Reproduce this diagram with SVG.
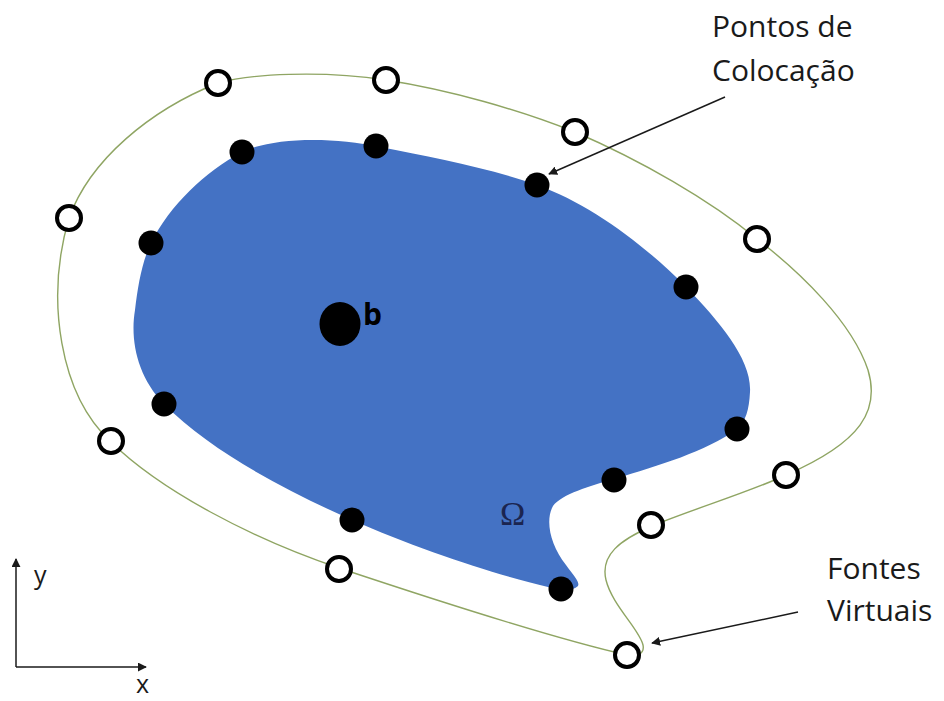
<svg xmlns="http://www.w3.org/2000/svg" width="944" height="701" viewBox="0 0 944 701">
  <defs>
    <style>
      .domain { fill: #4472C4; stroke: none; }
      .virtual-curve { fill: none; stroke: #8FA563; stroke-width: 1.4; }
      .colloc { fill: #000; }
      .source { fill: #fff; stroke: #000; stroke-width: 4; }
      .label { font-family: "Open Sans", "Liberation Sans", sans-serif; font-size: 30px; fill: #1a1a1a; }
      .axis-label { font-family: "Open Sans", "Liberation Sans", sans-serif; font-size: 25px; fill: #1a1a1a; }
      .lead { fill: none; stroke: #1a1a1a; stroke-width: 1.5; marker-end: url(#head); }
      .axis { fill: none; stroke: #1a1a1a; stroke-width: 1.5; marker-end: url(#head); }
    </style>
    <marker id="head" viewBox="0 0 10 10" refX="9" refY="5" markerWidth="9" markerHeight="9" markerUnits="userSpaceOnUse" orient="auto">
      <path d="M0,0 L10,5 L0,10 Z" fill="#1a1a1a"/>
    </marker>
  </defs>

  <!-- virtual boundary carrying the sources -->
  <g id="virtual-boundary">
    <path class="virtual-curve" d="M 218,83 C 250,74 320,70 386,80 C 450,90 520,110 575,132 C 640,160 710,200 757,239 C 800,272 852,322 868,370 C 880,410 862,442 786,475 C 750,492 690,510 652,526 C 620,540 600,555 606,580 C 612,605 640,630 643,645 C 645,655 635,657 627,655 C 560,640 450,605 339,568 C 250,538 160,490 111,442 C 60,395 45,300 69,218 C 90,160 150,110 218,83 Z"/>
  </g>

  <!-- problem domain Omega -->
  <g id="domain">
    <path class="domain" d="M 242,152 C 270,138 330,136 380,147 C 430,157 490,168 537,185 C 590,204 645,245 686,287 C 720,322 752,360 750,392 C 749,410 746,421 737,429 C 705,452 660,465 614,479 C 590,486 562,494 553,506 C 545,520 550,545 566,565 C 574,576 580,582 578,586 C 572,592 560,590 548,587 C 500,576 420,550 352,520 C 280,488 210,450 164,404 C 137,376 130,340 135,310 C 138,285 142,262 151,243 C 170,205 205,172 242,152 Z"/>
    <text x="500" y="525" font-family="'Liberation Serif', serif" font-size="34" fill="#1B2550">Ω</text>
  </g>

  <!-- collocation points on the domain boundary -->
  <g id="collocation-points">
    <circle class="colloc" cx="242" cy="152" r="12.5"/>
    <circle class="colloc" cx="376" cy="146" r="12.5"/>
    <circle class="colloc" cx="537" cy="185" r="12.5"/>
    <circle class="colloc" cx="686" cy="287" r="12.5"/>
    <circle class="colloc" cx="737" cy="429" r="12.5"/>
    <circle class="colloc" cx="614" cy="480" r="12.5"/>
    <circle class="colloc" cx="561" cy="589" r="12.5"/>
    <circle class="colloc" cx="352" cy="520" r="12.5"/>
    <circle class="colloc" cx="164" cy="404" r="12.5"/>
    <circle class="colloc" cx="151" cy="243" r="12.5"/>
  </g>

  <!-- interior point b -->
  <g id="point-b">
    <ellipse cx="340" cy="324" rx="20.5" ry="22" fill="#000"/>
    <text x="363" y="325" font-family="'Open Sans', 'Liberation Sans', sans-serif" font-size="30" font-weight="bold" fill="#000">b</text>
  </g>

  <!-- virtual sources -->
  <g id="virtual-sources">
    <circle class="source" cx="218" cy="83" r="12"/>
    <circle class="source" cx="386" cy="80" r="12"/>
    <circle class="source" cx="575" cy="132" r="12"/>
    <circle class="source" cx="757" cy="239" r="12"/>
    <circle class="source" cx="786" cy="475" r="12"/>
    <circle class="source" cx="651" cy="525" r="12"/>
    <circle class="source" cx="627" cy="655" r="12"/>
    <circle class="source" cx="339" cy="569" r="12"/>
    <circle class="source" cx="111" cy="441" r="12"/>
    <circle class="source" cx="69" cy="218" r="12"/>
  </g>

  <!-- callout labels -->
  <g id="label-colocacao">
    <text class="label" x="712" y="37">Pontos de</text>
    <text class="label" x="712" y="81">Colocação</text>
  </g>
  <g id="label-fontes">
    <text class="label" x="827" y="579">Fontes</text>
    <text class="label" x="827" y="621">Virtuais</text>
  </g>

  <!-- leader arrows and axes -->
  <g id="connectors">
    <line class="lead" x1="725" y1="97" x2="549" y2="174"/>
    <line class="lead" x1="798" y1="612" x2="652" y2="643"/>
    <line class="axis" x1="16" y1="667" x2="16" y2="559"/>
    <line class="axis" x1="16" y1="667" x2="146" y2="667"/>
  </g>

  <g id="axis-labels">
    <text class="axis-label" x="34" y="584">y</text>
    <text class="axis-label" x="136" y="693">x</text>
  </g>
</svg>
